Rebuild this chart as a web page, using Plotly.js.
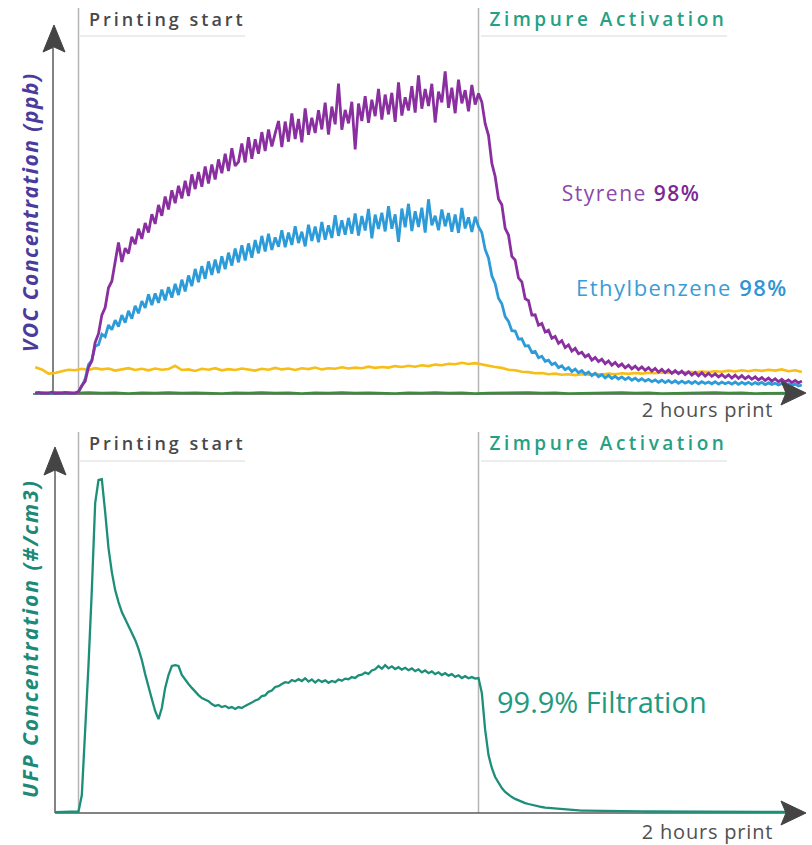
<!DOCTYPE html>
<html><head><meta charset="utf-8">
<script src="https://cdn.plot.ly/plotly-3.0.1.min.js"></script>
<style>
html,body{margin:0;padding:0;background:#fff;}
#chart{width:812px;height:845px;}
.annotation[data-index="0"] text,.annotation[data-index="2"] text{letter-spacing:3px;}
.annotation[data-index="1"] text,.annotation[data-index="3"] text{letter-spacing:3.5px;}
.annotation[data-index="4"] text,.annotation[data-index="5"] text{letter-spacing:1.5px;}
.annotation[data-index="6"] text,.annotation[data-index="7"] text{letter-spacing:0.8px;}
.annotation[data-index="9"] text{letter-spacing:1.5px;}
.annotation[data-index="10"] text{letter-spacing:2px;}
</style>
</head><body><div id="chart"></div>
<script>
// time in minutes, printing start = 0, Zimpure activation = 120
const vocStart = -13, vocStep = 1;
const styrene = [0.3,0.5,0.2,0.4,0.3,0.6,0.2,0.4,0.3,0.5,
0.3,0.4,0.3,0.8,
2.8,4.2,8.9,11.0,17.2,20.1,26.3,28.8,35.4,37.6,
44.1,50.5,44.0,48.6,46.8,52.4,49.9,55.1,51.7,57.0,
53.8,59.9,56.7,63.0,59.4,65.8,61.5,67.9,63.6,69.4,
65.2,71.1,66.0,73.2,68.3,74.0,69.1,75.8,70.2,76.5,
71.5,78.2,73.6,80.1,74.3,81.9,76.0,77.4,83.5,77.2,
85.6,78.4,84.9,80.1,87.3,81.0,88.2,82.5,86.9,91.0,
82.3,90.8,84.1,93.5,85.0,91.7,83.9,95.2,86.4,92.1,
87.0,94.6,88.2,97.1,86.5,95.8,89.9,103.5,88.1,94.7,
90.2,97.4,81.5,96.8,91.0,99.3,90.4,98.1,92.6,101.7,
91.5,99.8,93.2,100.4,90.7,103.9,92.8,98.9,94.5,102.6,
93.8,106.2,95.1,101.7,96.0,103.4,90.5,100.8,97.2,107.5,
95.4,102.1,93.6,104.8,96.9,101.3,94.2,103.0,96.5,100.2,
97.3,90.1,86.2,76.9,72.5,65.0,63.1,55.2,53.0,45.9,
44.6,38.7,37.4,31.8,31.1,26.3,26.4,22.9,23.5,20.7,
21.3,18.6,19.2,16.9,17.8,15.5,16.4,14.3,15.2,13.4,
13.9,12.4,13.1,11.3,12.2,10.8,11.6,10.1,11.0,9.6,
10.5,9.2,10.0,8.7,9.6,8.4,9.3,8.1,9.0,7.9,
8.8,7.6,8.5,7.3,8.2,7.1,8.0,6.9,7.8,6.8,
7.6,6.5,7.4,6.3,7.2,6.1,7.1,6.0,6.9,5.9,
6.7,5.7,6.5,5.5,6.4,5.3,6.3,5.2,6.1,5.1,
5.9,4.9,5.7,4.7,5.5,4.5,5.3,4.3,5.1,4.1,
4.9,4.0,4.7,3.8,4.5,3.7,4.3];
const ethylbenzene = [0.4,0.2,0.5,0.3,0.4,0.2,0.5,0.3,0.4,0.3,
0.5,0.3,0.4,0.7,
2.6,5.1,9.8,11.2,15.9,16.4,19.9,19.1,23.0,21.4,
24.6,22.5,26.3,23.8,27.7,25.1,29.4,26.9,31.0,28.7,
33.2,29.6,33.5,30.4,34.8,31.2,35.6,32.1,36.7,33.0,
38.1,34.2,39.5,36.0,41.7,37.3,42.6,38.4,44.2,39.7,
44.8,40.3,45.9,41.6,47.1,42.8,48.5,43.9,49.6,44.5,
50.2,45.4,51.3,46.9,52.7,47.5,53.4,48.0,52.2,49.1,
54.6,48.9,53.8,49.7,55.9,50.3,54.1,49.2,56.4,51.0,
55.8,50.6,57.3,51.4,56.2,52.0,59.6,52.7,57.9,53.1,
58.7,53.4,60.2,52.8,59.3,54.5,61.7,51.9,59.8,55.0,
60.4,54.2,62.6,55.1,59.9,50.7,61.8,55.6,63.4,54.3,
60.9,55.7,62.1,53.8,64.9,56.2,59.4,54.6,61.5,55.9,
60.3,54.1,59.8,53.7,62.0,55.2,58.9,54.0,59.1,55.8,
53.8,48.2,45.3,39.4,36.8,31.9,30.1,25.8,24.2,21.1,
21.0,18.3,18.4,16.0,16.1,13.9,14.2,12.1,12.6,10.9,
11.3,9.8,10.3,8.8,9.4,8.1,8.8,7.5,8.3,7.1,
7.8,6.6,7.3,6.1,6.9,5.8,6.5,5.4,6.2,5.2,
5.9,5.0,5.7,4.8,5.5,4.6,5.3,4.4,5.1,4.3,
4.9,4.1,4.7,3.9,4.6,3.8,4.5,3.7,4.4,3.6,
4.3,3.6,4.2,3.5,4.2,3.4,4.1,3.5,4.0,3.4,
4.1,3.3,4.0,3.4,3.9,3.3,4.0,3.2,3.9,3.3,
3.9,3.2,3.8,3.3,3.9,3.1,3.7,3.2,3.6,3.0,
3.5,2.9,3.4,2.8,3.3,2.7,3.0];
const yellowStep = 2;
const yellowVoc = [8.9,8.2,6.8,7.0,7.6,8.1,7.9,8.4,8.0,8.6,
8.2,8.5,7.8,8.3,8.6,8.0,8.4,7.9,8.5,8.1,
8.3,9.4,8.0,8.2,7.7,8.4,8.1,8.6,7.9,8.3,
8.0,8.5,8.2,7.8,8.4,8.1,8.7,8.2,8.5,8.0,
8.6,8.3,8.8,8.2,8.6,8.4,8.9,8.5,8.8,8.6,
9.1,8.7,9.0,8.8,9.3,9.0,9.4,9.1,9.6,9.3,
9.8,9.6,10.1,9.9,10.4,10.0,10.3,9.8,9.5,9.0,
8.7,8.1,7.9,7.4,7.3,6.9,7.0,6.6,6.8,6.4,
6.6,6.3,6.6,6.4,6.7,6.5,6.8,6.6,6.9,6.7,
7.0,6.8,7.1,6.9,7.2,7.0,7.3,7.1,7.4,7.2,
7.5,7.3,7.6,7.4,7.8,7.5,7.9,7.6,8.0,7.7,
8.1,7.8,8.2,7.6,7.9,7.3];
const greenStep = 4;
const greenVoc = [0.3,0.2,0.4,0.3,0.5,0.3,0.4,0.2,0.4,0.3,
0.5,0.3,0.4,0.3,0.2,0.4,0.3,0.5,0.3,0.4,
0.2,0.4,0.3,0.5,0.3,0.4,0.3,0.2,0.4,0.3,
0.5,0.3,0.4,0.2,0.3,0.4,0.3,0.5,0.3,0.4,
0.2,0.3,0.4,0.3,0.5,0.3,0.4,0.2,0.3,0.4,
0.3,0.5,0.3,0.4,0.2,0.3,0.4,0.3];
const ufpStart = -7, ufpStep = 1;
const ufp = [0.3,0.3,0.4,0.3,0.3,0.4,0.3,0.5,
6,26,49.3,74.3,103.3,111,111.3,100.3,88.3,80.3,
74.3,70.3,67,64.7,62.3,60.3,57.7,54.7,51,46.3,
41.7,38,34,31.3,35,41.7,46,49,49.3,49,
46,44.3,43,41.7,40.3,39.3,38.3,37.7,37.3,
36.3,35.7,36.0,35.3,35.7,35.0,35.3,34.7,35.3,35.0,35.7,
36.2,36.8,37.5,37.9,39.0,39.2,40.4,40.8,42.0,42.3,
43.0,43.6,43.4,44.3,43.9,44.6,44.0,44.9,43.8,44.5,
43.5,44.4,43.7,44.2,43.4,44.0,43.6,44.5,44.1,44.8,
44.6,45.3,45.0,45.9,46.1,46.8,46.4,47.5,47.9,49.0,
48.1,49.3,48.2,48.9,48.0,48.6,47.8,48.4,47.6,48.2,
47.3,47.9,46.9,47.5,46.6,47.2,46.3,46.9,46.0,46.6,
45.8,46.3,45.4,45.9,45.0,45.6,44.9,45.3,44.8,45.0,
40,27.7,19.3,15,12,10,8.3,7,6,5.3,
4.7,4.2,3.7,3.3,3,2.7,2.4,2.2,2,1.8,
1.7,1.5,1.4,1.3,1.2,1.1,1.0,0.95,0.9,0.85,
0.8,0.78,0.75,0.72,0.7,0.68,0.66,0.64,0.62,0.6,
0.58,0.57,0.56,0.55,0.54,0.53,0.52,0.52,0.51,0.5,
0.5,0.49,0.48,0.48,0.47,0.47,0.46,0.46,0.45,0.45,
0.44,0.44,0.43,0.43,0.43,0.42,0.42,0.42,0.41,0.41,
0.41,0.4,0.4,0.4,0.4,0.39,0.39,0.39,0.39,0.38,
0.38,0.38,0.38,0.38,0.37,0.37,0.37,0.37,0.37,0.36,
0.36,0.36,0.36,0.36,0.35,0.35,0.35];
const eventTimes = [0, 120];
const eventLabels = ['Printing start', 'Zimpure Activation'];
const vocLabels = ['Styrene', 'Ethylbenzene'];
const reductions = ['98%', '98%'];
const ufpLabel = '99.9% Filtration';
const xLabel = '2 hours print';

function times(start, step, n){ const a=[]; for(let i=0;i<n;i++) a.push(start+i*step); return a; }

const W=812, H=845;
const px = v => v/W, py = v => 1 - v/H;
function path(pts){ return 'M ' + pts.map(p => px(p[0]).toFixed(5)+' '+py(p[1]).toFixed(5)).join(' L ') + ' Z'; }

const cPurple='#8a2f9f', cBlue='#2c9bd8', cYellow='#f7be17', cGreen='#3b8d3b', cTeal='#1d8f79';

const traces = [
 {x: times(vocStart, greenStep, greenVoc.length), y: greenVoc, xaxis:'x', yaxis:'y', mode:'lines', line:{color:cGreen,width:2.5}},
 {x: times(vocStart, yellowStep, yellowVoc.length), y: yellowVoc, xaxis:'x', yaxis:'y', mode:'lines', line:{color:cYellow,width:2.6}},
 {x: times(vocStart, vocStep, ethylbenzene.length), y: ethylbenzene, xaxis:'x', yaxis:'y', mode:'lines', line:{color:cBlue,width:2.8}},
 {x: times(vocStart, vocStep, styrene.length), y: styrene, xaxis:'x', yaxis:'y', mode:'lines', line:{color:cPurple,width:2.8}},
 {x: times(ufpStart, ufpStep, ufp.length), y: ufp, xaxis:'x2', yaxis:'y2', mode:'lines', line:{color:cTeal,width:2.3}}
];

const hidden = {visible:false, showgrid:false, zeroline:false, fixedrange:true};
const xr = [-78.5*0.3, (W-78.5)*0.3];

const axisCol = '#5a5a5a', arrowCol = '#444444', evCol = '#b4b4b4', ulCol = '#ececec';
const shapes = [];
eventTimes.forEach(t => {
  shapes.push({type:'line', xref:'x', yref:'paper', x0:t, x1:t, y0:py(395), y1:py(8), line:{color:evCol,width:1.5}, layer:'below'});
  shapes.push({type:'line', xref:'x2', yref:'paper', x0:t, x1:t, y0:py(813), y1:py(432), line:{color:evCol,width:1.5}, layer:'below'});
});
[[80,245],[481,727]].forEach(s => {
  shapes.push({type:'line', xref:'paper', yref:'paper', x0:px(s[0]), x1:px(s[1]), y0:py(36), y1:py(36), line:{color:ulCol,width:2}, layer:'below'});
  shapes.push({type:'line', xref:'paper', yref:'paper', x0:px(s[0]), x1:px(s[1]), y0:py(461), y1:py(461), line:{color:ulCol,width:2}, layer:'below'});
});
shapes.push({type:'line', xref:'paper', yref:'paper', x0:px(53), x1:px(53), y0:py(395), y1:py(48), line:{color:axisCol,width:1.5}, layer:'below'});
shapes.push({type:'line', xref:'paper', yref:'paper', x0:px(33), x1:px(790), y0:py(394), y1:py(394), line:{color:axisCol,width:1.5}, layer:'below'});
shapes.push({type:'line', xref:'paper', yref:'paper', x0:px(55), x1:px(55), y0:py(813), y1:py(470), line:{color:axisCol,width:1.5}, layer:'below'});
shapes.push({type:'line', xref:'paper', yref:'paper', x0:px(55), x1:px(790), y0:py(813), y1:py(813), line:{color:axisCol,width:1.5}, layer:'below'});
const arrows = [
 [[54,25],[65,52],[54,47],[43,52]],
 [[806,393],[781,405],[786,393],[781,381]],
 [[55,447],[66,475],[55,470],[44,475]],
 [[806,813],[781,825],[786,813],[781,801]]
];
arrows.forEach(a => shapes.push({type:'path', xref:'paper', yref:'paper', path:path(a), fillcolor:arrowCol, line:{color:arrowCol,width:1}, layer:'above'}));

const fLab = 'Open Sans, sans-serif';
function ann(text, x, y, font, extra){ return Object.assign({text, xref:'paper', yref:'paper', x:px(x), y:py(y), xanchor:'center', yanchor:'middle', showarrow:false, font}, extra||{}); }
const annotations = [
 ann(eventLabels[0], 167, 19, {family:fLab, size:18, weight:600, color:'#484848'}),
 ann(eventLabels[1], 608, 19, {family:fLab, size:19, weight:600, color:'#24a084'}),
 ann(eventLabels[0], 167, 443, {family:fLab, size:18, weight:600, color:'#484848'}),
 ann(eventLabels[1], 608, 443, {family:fLab, size:19, weight:600, color:'#24a084'}),
 ann(vocLabels[0] + ' <span style="color:#7a2a92;font-weight:600">' + reductions[0] + '</span>', 631, 193, {family:fLab, size:21, color:'#8e48ab'}),
 ann(vocLabels[1] + ' <span style="color:#2f96d2;font-weight:600">' + reductions[1] + '</span>', 682, 287, {family:fLab, size:22, color:'#3a9cd6'}),
 ann(xLabel, 707, 409, {family:fLab, size:20, color:'#505050'}),
 ann(xLabel, 707, 831, {family:fLab, size:20, color:'#505050'}),
 ann(ufpLabel, 602, 701, {family:fLab, size:29, color:'#1f9a81'}),
 ann('VOC Concentration (ppb)', 30, 213, {family:fLab, size:21, weight:700, style:'italic', color:'#4a3b9c'}, {textangle:-90}),
 ann('UFP Concentration (#/cm3)', 30, 639, {family:fLab, size:21, weight:700, style:'italic', color:'#1d8a78'}, {textangle:-90})
];

const layout = {
  width:W, height:H, autosize:false,
  margin:{l:0,r:0,t:0,b:0,pad:0},
  paper_bgcolor:'#ffffff', plot_bgcolor:'rgba(0,0,0,0)',
  showlegend:false,
  xaxis: Object.assign({}, hidden, {domain:[0,1], range:xr, anchor:'y'}),
  yaxis: Object.assign({}, hidden, {domain:[py(420),1], range:[-26/3, 394/3], anchor:'x'}),
  xaxis2: Object.assign({}, hidden, {domain:[0,1], range:xr, anchor:'y2'}),
  yaxis2: Object.assign({}, hidden, {domain:[0,py(425)], range:[-32/3, 388/3], anchor:'x2'}),
  shapes, annotations
};
Plotly.newPlot('chart', traces, layout, {displayModeBar:false, staticPlot:true});
</script></body></html>
